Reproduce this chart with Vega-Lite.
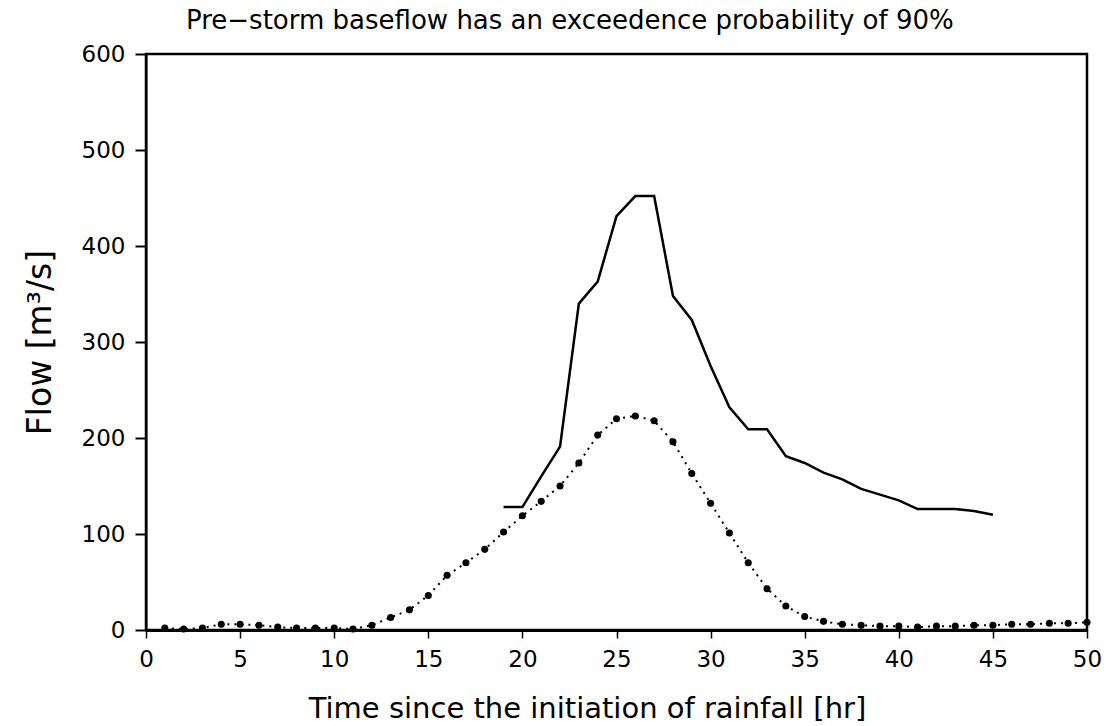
{
  "$schema": "https://vega.github.io/schema/vega-lite/v6.json",
  "autosize": "none",
  "width": 941,
  "height": 576,
  "padding": {"left": 146, "top": 54, "right": 30, "bottom": 96},
  "background": "white",
  "title": {
    "text": "Pre−storm baseflow has an exceedence probability of 90%",
    "anchor": "start",
    "frame": "group",
    "baseline": "alphabetic",
    "offset": -12,
    "font": "DejaVu Sans",
    "fontSize": 26,
    "fontWeight": "normal",
    "color": "black",
    "dx": 40
  },
  "config": {
    "view": {"stroke": "black", "strokeWidth": 2.5},
    "axis": {
      "labelFont": "DejaVu Sans",
      "titleFont": "DejaVu Sans",
      "labelColor": "black",
      "titleColor": "black",
      "domainColor": "black",
      "tickColor": "black",
      "grid": false,
      "titleFontWeight": "normal"
    }
  },
  "datasets": {
    "flows": [
      {"t": 19, "flow": 128, "series": "observed"},
      {"t": 20, "flow": 128, "series": "observed"},
      {"t": 21, "flow": 160, "series": "observed"},
      {"t": 22, "flow": 191, "series": "observed"},
      {"t": 23, "flow": 340, "series": "observed"},
      {"t": 24, "flow": 363, "series": "observed"},
      {"t": 25, "flow": 431, "series": "observed"},
      {"t": 26, "flow": 452, "series": "observed"},
      {"t": 27, "flow": 452, "series": "observed"},
      {"t": 28, "flow": 348, "series": "observed"},
      {"t": 29, "flow": 323, "series": "observed"},
      {"t": 30, "flow": 275, "series": "observed"},
      {"t": 31, "flow": 232, "series": "observed"},
      {"t": 32, "flow": 209, "series": "observed"},
      {"t": 33, "flow": 209, "series": "observed"},
      {"t": 34, "flow": 181, "series": "observed"},
      {"t": 35, "flow": 174, "series": "observed"},
      {"t": 36, "flow": 164, "series": "observed"},
      {"t": 37, "flow": 157, "series": "observed"},
      {"t": 38, "flow": 147, "series": "observed"},
      {"t": 39, "flow": 141, "series": "observed"},
      {"t": 40, "flow": 135, "series": "observed"},
      {"t": 41, "flow": 126, "series": "observed"},
      {"t": 42, "flow": 126, "series": "observed"},
      {"t": 43, "flow": 126, "series": "observed"},
      {"t": 44, "flow": 124, "series": "observed"},
      {"t": 45, "flow": 120, "series": "observed"},
      {"t": 1, "flow": 2, "series": "simulated"},
      {"t": 2, "flow": 1, "series": "simulated"},
      {"t": 3, "flow": 2, "series": "simulated"},
      {"t": 4, "flow": 6, "series": "simulated"},
      {"t": 5, "flow": 6, "series": "simulated"},
      {"t": 6, "flow": 5, "series": "simulated"},
      {"t": 7, "flow": 3, "series": "simulated"},
      {"t": 8, "flow": 2, "series": "simulated"},
      {"t": 9, "flow": 2, "series": "simulated"},
      {"t": 10, "flow": 2, "series": "simulated"},
      {"t": 11, "flow": 1, "series": "simulated"},
      {"t": 12, "flow": 5, "series": "simulated"},
      {"t": 13, "flow": 13, "series": "simulated"},
      {"t": 14, "flow": 21, "series": "simulated"},
      {"t": 15, "flow": 36, "series": "simulated"},
      {"t": 16, "flow": 57, "series": "simulated"},
      {"t": 17, "flow": 70, "series": "simulated"},
      {"t": 18, "flow": 84, "series": "simulated"},
      {"t": 19, "flow": 102, "series": "simulated"},
      {"t": 20, "flow": 119, "series": "simulated"},
      {"t": 21, "flow": 134, "series": "simulated"},
      {"t": 22, "flow": 150, "series": "simulated"},
      {"t": 23, "flow": 174, "series": "simulated"},
      {"t": 24, "flow": 203, "series": "simulated"},
      {"t": 25, "flow": 220, "series": "simulated"},
      {"t": 26, "flow": 223, "series": "simulated"},
      {"t": 27, "flow": 218, "series": "simulated"},
      {"t": 28, "flow": 196, "series": "simulated"},
      {"t": 29, "flow": 163, "series": "simulated"},
      {"t": 30, "flow": 132, "series": "simulated"},
      {"t": 31, "flow": 101, "series": "simulated"},
      {"t": 32, "flow": 70, "series": "simulated"},
      {"t": 33, "flow": 43, "series": "simulated"},
      {"t": 34, "flow": 25, "series": "simulated"},
      {"t": 35, "flow": 14, "series": "simulated"},
      {"t": 36, "flow": 9, "series": "simulated"},
      {"t": 37, "flow": 6, "series": "simulated"},
      {"t": 38, "flow": 5, "series": "simulated"},
      {"t": 39, "flow": 4, "series": "simulated"},
      {"t": 40, "flow": 4, "series": "simulated"},
      {"t": 41, "flow": 3, "series": "simulated"},
      {"t": 42, "flow": 4, "series": "simulated"},
      {"t": 43, "flow": 4, "series": "simulated"},
      {"t": 44, "flow": 5, "series": "simulated"},
      {"t": 45, "flow": 5, "series": "simulated"},
      {"t": 46, "flow": 6, "series": "simulated"},
      {"t": 47, "flow": 6, "series": "simulated"},
      {"t": 48, "flow": 7, "series": "simulated"},
      {"t": 49, "flow": 7, "series": "simulated"},
      {"t": 50, "flow": 8, "series": "simulated"}
    ]
  },
  "data": {"name": "flows"},
  "encoding": {
    "x": {
      "field": "t",
      "type": "quantitative",
      "scale": {"domain": [0, 50], "nice": false, "zero": false},
      "axis": {
        "title": "Time since the initiation of rainfall [hr]",
        "values": [0, 5, 10, 15, 20, 25, 30, 35, 40, 45, 50],
        "labelFontSize": 23,
        "labelPadding": 10,
        "tickSize": 8,
        "tickWidth": 1.5,
        "domainWidth": 3,
        "titleFontSize": 29,
        "titleBaseline": "alphabetic",
        "titleY": 87,
        "titleX": 441,
        "labelFlush": false
      }
    },
    "y": {
      "field": "flow",
      "type": "quantitative",
      "scale": {"domain": [0, 600], "nice": false},
      "axis": {
        "title": "Flow [m³/s]",
        "values": [0, 100, 200, 300, 400, 500, 600],
        "labelFontSize": 23,
        "labelPadding": 10,
        "tickSize": 11,
        "tickWidth": 2,
        "domainWidth": 2,
        "titleFontSize": 33,
        "titleBaseline": "alphabetic",
        "titleX": -96,
        "labelFlush": false
      }
    }
  },
  "layer": [
    {
      "transform": [{"filter": "datum.series === 'observed'"}],
      "mark": {"type": "line", "color": "black", "strokeWidth": 2.5}
    },
    {
      "transform": [{"filter": "datum.series === 'simulated'"}],
      "mark": {"type": "line", "color": "black", "strokeWidth": 2, "strokeDash": [2, 5]}
    },
    {
      "transform": [{"filter": "datum.series === 'simulated'"}],
      "mark": {"type": "point", "filled": true, "color": "black", "opacity": 1, "size": 50}
    }
  ]
}
